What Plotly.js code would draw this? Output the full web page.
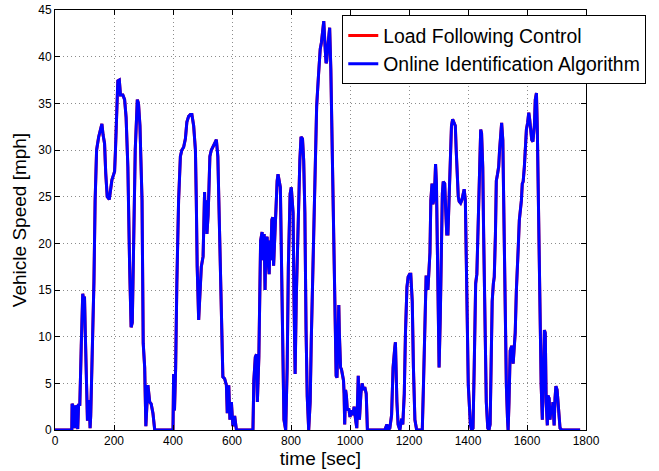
<!DOCTYPE html>
<html>
<head>
<meta charset="utf-8">
<script src="https://cdn.plot.ly/plotly-3.0.1.min.js"></script>
<style>html,body{margin:0;padding:0;background:#fff;}#chart{width:659px;height:471px;}</style>
</head>
<body>
<div id="chart"></div>
<script>
// time [sec]
const time = [0,57,58,62,66,70,73,77,80,84,89,94,97,100,103,106,110,113,116,119,121,125,129,132,136,141,148,154,159,163,168,172,177,184,188,193,197,202,205,209,213,218,222,230,236,241,247,253,258,262,266,272,279,283,288,295,299,304,308,311,315,321,326,332,338,400,402,405,409,413,419,425,430,436,442,447,453,459,464,470,476,479,482,487,490,496,502,505,507,510,513,515,519,522,525,530,536,541,547,552,558,564,569,575,581,584,589,593,598,603,609,615,671,674,679,683,686,691,694,697,702,706,709,712,715,719,722,726,729,731,735,738,741,745,749,753,756,761,764,768,772,776,782,787,791,797,801,807,810,814,818,824,830,834,839,843,847,851,855,860,865,869,876,882,887,893,899,903,908,911,916,919,921,924,928,931,935,939,944,948,953,956,960,962,964,968,971,975,978,980,982,985,988,991,996,1000,1005,1010,1014,1019,1023,1028,1032,1037,1041,1046,1050,1055,1059,1118,1125,1129,1135,1141,1146,1152,1154,1159,1163,1169,1175,1179,1184,1188,1193,1197,1202,1206,1211,1215,1220,1226,1245,1249,1254,1258,1262,1264,1267,1271,1274,1278,1281,1284,1288,1290,1293,1297,1300,1302,1306,1309,1313,1316,1321,1324,1328,1332,1335,1340,1344,1348,1352,1357,1360,1363,1367,1370,1375,1379,1384,1387,1391,1394,1397,1401,1404,1408,1412,1417,1421,1426,1430,1435,1439,1443,1446,1450,1453,1457,1462,1467,1471,1475,1479,1482,1486,1489,1493,1496,1500,1504,1507,1511,1514,1518,1521,1525,1530,1534,1536,1539,1543,1547,1550,1553,1557,1560,1564,1567,1570,1574,1577,1581,1584,1587,1591,1594,1598,1602,1606,1609,1612,1616,1620,1625,1628,1632,1635,1638,1642,1645,1648,1652,1655,1659,1662,1665,1669,1671,1675,1678,1682,1685,1688,1692,1695,1698,1702,1705,1709,1712,1718,1780];
// vehicle speed [mph] (both controllers give the same trace; the red one lies under the blue one)
const speed = [0,0,2.8,2.5,0.2,2.6,2.5,0.1,2.8,2.6,9.0,14.6,14.0,14.3,10,5,1.0,2.5,3.2,0.2,1.5,6.7,11.5,15.9,24.6,30.0,31.4,32.2,32.8,31.6,30.7,27.5,25.0,24.7,25.8,26.8,27.2,27.7,30.0,34.0,37.4,37.5,35.9,35.9,35.4,33.5,28.2,17.5,11.0,11.5,21.1,30.0,35.4,35.0,32.6,24.6,9.3,6.7,0.4,3.0,4.8,3.0,2.8,1.8,0,0,6.0,2.1,6.7,15.7,24.6,29.3,30.0,30.3,31.2,33.0,33.6,33.8,33.8,32.6,30.0,24.6,17.5,11.8,13.5,17.5,18.6,22.0,25.5,21.4,24.6,21.0,23.0,26.0,29.3,30.0,30.3,30.7,31.1,29.3,21.0,12.0,5.7,5.5,4.8,1.8,4.8,1.1,3.0,0.4,1.5,0,0,5.3,7.8,8.1,3.0,7.8,13.6,20.3,21.2,18.2,21.0,15.0,20.3,20.7,18.2,16.7,20.3,18.2,22.5,22.8,17.6,21.0,24.6,26.7,27.4,26.7,26.0,17.6,6.7,1.1,0,6.7,17.5,25.3,26.0,23.3,14.3,6.0,14.3,23.3,28.9,31.4,31.2,28.9,23.3,10.8,3.6,0,3.0,10.0,21.0,30.0,34.7,37.9,40.8,41.5,43.6,43.8,40.8,39.3,39.5,40.8,42.8,43.1,38.7,31.0,21.0,12.0,5.8,5.6,13.0,13.4,10.3,6.7,6.5,5.6,5.3,3.9,0.6,4.3,3.6,2.1,2.3,1.4,2.1,1.6,2.5,1.1,0.2,5.8,1.1,3.9,5.0,4.3,4.6,3.9,0,0,0.6,0,0.2,1.6,6.7,8.9,9.4,3.0,0.6,0,1.2,0.6,3.9,10.4,15.3,16.4,16.7,16.7,13.8,6.7,1.1,0,0,4.8,10.0,16.4,16.4,15.0,16.7,19.0,24.6,26.4,24.2,24.6,26.7,28.5,26.4,19.0,12.0,6.7,12.0,19.0,25.3,26.6,26.4,23.9,21.0,21.0,24.6,30.0,32.6,33.3,32.9,32.6,30.0,27.2,25.0,24.5,24.3,24.6,25.3,25.8,24.6,17.5,10.0,4.8,3.0,0.6,0,0.2,6.7,15.7,16.7,23.3,30.0,32.2,31.8,28.2,21.0,10.0,3.0,0.2,0,0.6,6.7,13.8,15.7,16.4,21.0,26.7,27.4,28.2,30.0,32.6,32.9,31.1,24.6,13.8,4.8,1.1,0,3.0,8.5,8.9,8.9,7.1,9.6,10.4,15.0,16.7,19.3,22.5,23.3,24.6,26.4,26.6,28.2,30.0,32.2,32.9,34.0,33.3,32.6,31.1,30.9,32.6,35.4,36.1,32.2,24.6,17.5,10.4,4.8,1.1,6.7,10.7,10.4,3.0,0.5,3.7,3.4,1.1,2.5,1.8,3.0,0.5,3.4,4.7,4.3,3.0,1.1,0.2,0,0];
const seriesNames = ['Load Following Control', 'Online Identification Algorithm'];
const seriesColors = ['#ff0000', '#0000ff'];
const xTicks = [0,200,400,600,800,1000,1200,1400,1600,1800];
const yTicks = [0,5,10,15,20,25,30,35,40,45];

const FONT = 'Liberation Sans, Arial, Helvetica, sans-serif';
const traces = seriesNames.map((n, i) => ({
  x: time, y: speed, type: 'scatter', mode: 'lines', name: n,
  line: {color: seriesColors[i], width: 3}
}));

const axisCommon = {
  showline: true, linecolor: '#000', linewidth: 1, mirror: 'ticks',
  ticks: 'inside', ticklen: 5, tickcolor: '#000', tickwidth: 1,
  showgrid: true, gridcolor: 'rgba(0,0,0,0.45)', griddash: '1px,3px', gridwidth: 1,
  zeroline: false, tickfont: {family: FONT, size: 12, color: '#000'}
};

const layout = {
  width: 659, height: 471,
  margin: {l: 55, r: 73, t: 10, b: 41},
  paper_bgcolor: '#fff', plot_bgcolor: '#fff',
  font: {family: FONT, color: '#000'},
  showlegend: true,
  legend: {
    x: 0.541, y: 0.987, xanchor: 'left', yanchor: 'top',
    bgcolor: '#fff', bordercolor: '#000', borderwidth: 1,
    font: {family: FONT, size: 19.4, color: '#000'}
  },
  xaxis: Object.assign({}, axisCommon, {
    range: [0, 1800], tickvals: xTicks, ticktext: xTicks.map(String),
    title: {text: 'time [sec]', font: {family: FONT, size: 19}, standoff: 4}
  }),
  yaxis: Object.assign({}, axisCommon, {
    range: [0, 45], tickvals: yTicks, ticktext: yTicks.map(String),
    title: {text: 'Vehicle Speed [mph]', font: {family: FONT, size: 19}, standoff: 6}
  })
};

Plotly.newPlot('chart', traces, layout, {displayModeBar: false, staticPlot: true});
</script>
</body>
</html>
